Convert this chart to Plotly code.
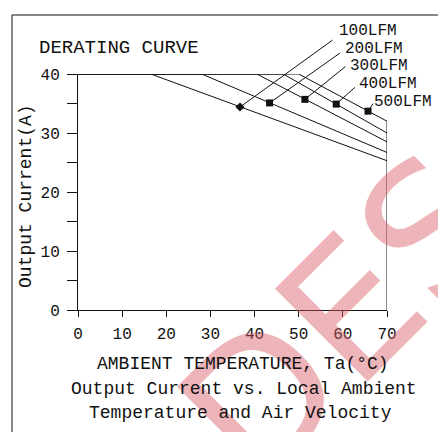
import plotly.graph_objects as go

# ---------------- data ----------------
velocities = ["100LFM", "200LFM", "300LFM", "400LFM", "500LFM"]
derate_start_T = [16.5, 28.0, 40.5, 46.5, 50.0]      # deg C where derating begins
current_at_70 = [25.3, 26.7, 28.5, 30.0, 32.0]       # A at 70 deg C
max_current = 40.0
t_max = 70.0
marker_T = [36.7, 43.4, 51.4, 58.5, 65.7]
marker_I = [34.4, 35.1, 35.7, 34.9, 33.7]
x_ticks = [0, 10, 20, 30, 40, 50, 60, 70]
y_ticks = [0, 10, 20, 30, 40]

# ---------------- layout / style ----------------
W, H = 438, 432
ML, MR, MT, MB = 78, 51, 74, 122
PW, PH = W - ML - MR, H - MT - MB
MONO = "Liberation Mono"
INK = "#111111"


def px2paper(px, py):
    return (px - ML) / PW, (H - MB - py) / PH


marker_symbols = ["diamond", "square", "square", "square", "square"]
label_px = [(337, 31), (343, 49), (348, 66), (357, 84), (372, 102)]
leader_off = [(94, -68), (72, -51), (42, -34), (20, -18), (6, -9)]

fig = go.Figure()

for i, name in enumerate(velocities):
    fig.add_trace(go.Scatter(
        x=[0, derate_start_T[i], t_max],
        y=[max_current, max_current, current_at_70[i]],
        mode="lines", line=dict(color=INK, width=1), name=name,
        hoverinfo="skip"))

# right border at 70 C, from 0 up to the highest curve end
fig.add_trace(go.Scatter(x=[t_max, t_max], y=[0, max(current_at_70)],
                         mode="lines", line=dict(color=INK, width=1),
                         hoverinfo="skip"))

fig.add_trace(go.Scatter(
    x=marker_T, y=marker_I, mode="markers",
    marker=dict(symbol=marker_symbols, size=7, color=INK),
    hoverinfo="skip"))

annotations = []

# watermark
wx, wy = px2paper(342, 318)
annotations.append(dict(
    x=wx, y=wy, xref="paper", yref="paper", text="DES", showarrow=False,
    textangle=-45, font=dict(family="DejaVu Sans", size=180,
                              color="rgba(214,90,100,0.45)"),
    xanchor="center", yanchor="middle"))

for i, name in enumerate(velocities):
    annotations.append(dict(
        x=marker_T[i], y=marker_I[i], xref="x", yref="y", text="",
        showarrow=True, arrowhead=0, arrowwidth=1, arrowcolor=INK,
        ax=leader_off[i][0], ay=leader_off[i][1]))
    lx, ly = px2paper(*label_px[i])
    annotations.append(dict(
        x=lx, y=ly, xref="paper", yref="paper", text=name, showarrow=False,
        xanchor="left", yanchor="middle",
        font=dict(family=MONO, size=16, color=INK)))

tx, ty = px2paper(37, 48)
annotations.append(dict(x=tx, y=ty, xref="paper", yref="paper",
                        text="DERATING CURVE", showarrow=False,
                        xanchor="left", yanchor="middle",
                        font=dict(family=MONO, size=19, color=INK)))

for text, (cx, cy) in [("AMBIENT TEMPERATURE, Ta(°C)", (243, 364)),
                       ("Output Current vs. Local Ambient", (244, 389)),
                       ("Temperature and Air Velocity", (240, 413))]:
    ax_, ay_ = px2paper(cx, cy)
    annotations.append(dict(x=ax_, y=ay_, xref="paper", yref="paper",
                            text=text, showarrow=False,
                            xanchor="center", yanchor="middle",
                            font=dict(family=MONO, size=18, color=INK)))

yx, yy = px2paper(26, 196)
annotations.append(dict(x=yx, y=yy, xref="paper", yref="paper",
                        text="Output Current(A)", showarrow=False,
                        textangle=-90, xanchor="center", yanchor="middle",
                        font=dict(family=MONO, size=18, color=INK)))

# outer frame lines (top and left)
fx0, fy0 = px2paper(12, 15)
fx1, fy1 = px2paper(W + 2, H + 2)
shapes = [
    dict(type="line", xref="paper", yref="paper", x0=fx0, y0=fy0, x1=fx1,
         y1=fy0, line=dict(color=INK, width=1)),
    dict(type="line", xref="paper", yref="paper", x0=fx0, y0=fy0, x1=fx0,
         y1=fy1, line=dict(color=INK, width=1)),
]

fig.update_layout(
    width=W, height=H, margin=dict(l=ML, r=MR, t=MT, b=MB, pad=0),
    paper_bgcolor="white", plot_bgcolor="white", showlegend=False,
    annotations=annotations, shapes=shapes,
    xaxis=dict(range=[0, t_max], tickvals=x_ticks, ticks="outside",
               ticklen=6, tickcolor=INK, showline=True, linecolor=INK,
               linewidth=1, showgrid=False, zeroline=False,
               tickfont=dict(family=MONO, size=16, color=INK),
               ticklabelstandoff=3, fixedrange=True),
    yaxis=dict(range=[0, max_current], tickvals=y_ticks, ticks="outside",
               ticklen=10, tickcolor=INK, showline=True, linecolor=INK,
               linewidth=1, showgrid=False, zeroline=False,
               minor=dict(dtick=5, ticks="outside", ticklen=10,
                          tickcolor=INK, showgrid=False),
               tickfont=dict(family=MONO, size=16, color=INK),
               ticklabelstandoff=4, fixedrange=True),
)

fig.write_html("out.html")
